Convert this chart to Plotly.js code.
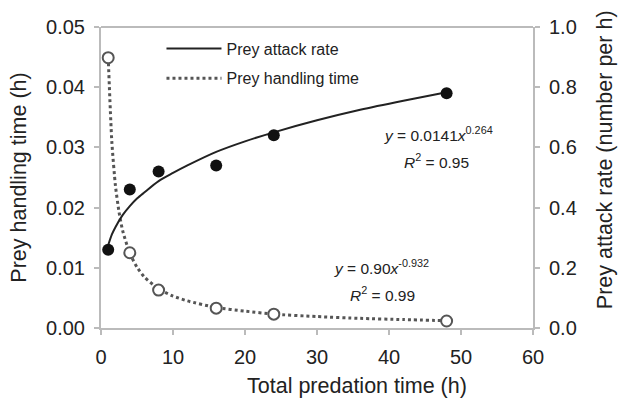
<!DOCTYPE html>
<html><head><meta charset="utf-8">
<script src="https://cdn.plot.ly/plotly-3.0.1.min.js"></script>
<style>html,body{margin:0;padding:0;background:#fff}#chart{width:618px;height:399px}</style>
</head><body><div id="chart"></div>
<script>
// Observed data
const predTime = [1, 4, 8, 16, 24, 48];
const handlingTime = [0.0449, 0.0125, 0.0063, 0.0033, 0.0023, 0.00116];
const attackRate = [0.26, 0.46, 0.52, 0.54, 0.64, 0.78];
// Fitted curves
const attackFitX = [1, 1.5, 2, 3, 4, 5, 6, 8, 10, 12, 16, 20, 24, 30, 36, 42, 48];
const attackFitY = [0.275, 0.31, 0.335, 0.375, 0.405, 0.43, 0.45, 0.488, 0.515, 0.54, 0.585, 0.62, 0.65, 0.69, 0.725, 0.755, 0.783];
const handlingFitX = [1, 1.5, 2, 2.5, 3, 4, 5, 6, 8, 10, 12, 16, 20, 24, 30, 36, 42, 48];
const handlingFitY = [0.045, 0.031, 0.0237, 0.0193, 0.0162, 0.0124, 0.0101, 0.0085, 0.0065, 0.0053, 0.0045, 0.0034, 0.0028, 0.0023, 0.0019, 0.0016, 0.0014, 0.0012];
const xTicks = [0, 10, 20, 30, 40, 50, 60];
const yLeftTicks = [0, 0.01, 0.02, 0.03, 0.04, 0.05];
const yLeftLabels = ['0.00', '0.01', '0.02', '0.03', '0.04', '0.05'];
const yRightTicks = [0, 0.2, 0.4, 0.6, 0.8, 1.0];
const yRightLabels = ['0.0', '0.2', '0.4', '0.6', '0.8', '1.0'];

const font = 'Liberation Sans, Arial, sans-serif';
const txt = '#222';
const traces = [
  {x: attackFitX, y: attackFitY, yaxis: 'y2', mode: 'lines', name: 'Prey attack rate', legendgroup: 'a',
   line: {color: '#222', width: 2, shape: 'spline', smoothing: 0.8}, hoverinfo: 'skip'},
  {x: handlingFitX, y: handlingFitY, mode: 'lines', name: 'Prey handling time', legendgroup: 'b',
   line: {color: '#555', width: 3, dash: 'dot', shape: 'spline', smoothing: 0.6}, hoverinfo: 'skip'},
  {x: predTime, y: attackRate, yaxis: 'y2', mode: 'markers', showlegend: false,
   marker: {color: '#111', size: 12}},
  {x: predTime, y: handlingTime, mode: 'markers', showlegend: false,
   marker: {color: '#fff', size: 11, line: {color: '#555', width: 2}}}
];
const axCommon = {showgrid: false, zeroline: false, showline: true, linecolor: '#bbb', linewidth: 2,
  ticks: 'outside', ticklen: 5, tickcolor: '#bbb', tickwidth: 2, ticklabelstandoff: 5,
  tickfont: {family: font, size: 20, color: txt}};
const titleFont = {family: font, size: 21.5, color: txt};
const eqFont = {family: font, size: 15.5, color: txt};
const layout = {
  width: 618, height: 399,
  margin: {l: 101, r: 85, t: 27, b: 71},
  paper_bgcolor: '#fff', plot_bgcolor: '#fff',
  showlegend: true,
  legend: {x: 0.14, y: 0.985, xanchor: 'left', yanchor: 'top', bgcolor: 'rgba(0,0,0,0)',
    traceorder: 'grouped', tracegroupgap: 6,
    font: {family: font, size: 16, color: txt}, itemwidth: 55},
  xaxis: Object.assign({}, axCommon, {range: [0, 60], tickvals: xTicks}),
  yaxis: Object.assign({}, axCommon, {range: [0, 0.05], tickvals: yLeftTicks, ticktext: yLeftLabels,
    title: {text: 'Prey handling time (h)', font: titleFont, standoff: 14}}),
  yaxis2: Object.assign({}, axCommon, {range: [0, 1], overlaying: 'y', side: 'right',
    tickvals: yRightTicks, ticktext: yRightLabels}),
  shapes: [{type: 'line', xref: 'paper', yref: 'paper', x0: 0, x1: 1, y0: 1, y1: 1,
    line: {color: '#bbb', width: 2}}],
  annotations: [
    {x: 0.5926, y: -0.193, xref: 'paper', yref: 'paper', xanchor: 'center', yanchor: 'middle',
     showarrow: false, text: 'Total predation time (h)', font: titleFont},
    {x: 1.167, y: 0.558, xref: 'paper', yref: 'paper', xanchor: 'center', yanchor: 'middle',
     showarrow: false, textangle: -90, text: 'Prey attack rate (number per h)', font: titleFont},
    {x: 46.9, y: 0.0322, xref: 'x', yref: 'y', xanchor: 'center', showarrow: false,
     text: '<i>y</i> = 0.0141<i>x</i><sup>0.264</sup>', font: eqFont},
    {x: 46.6, y: 0.0277, xref: 'x', yref: 'y', xanchor: 'center', showarrow: false,
     text: '<i>R</i><sup>2</sup> = 0.95', font: eqFont},
    {x: 38.9, y: 0.0101, xref: 'x', yref: 'y', xanchor: 'center', showarrow: false,
     text: '<i>y</i> = 0.90<i>x</i><sup>-0.932</sup>', font: eqFont},
    {x: 39.1, y: 0.0057, xref: 'x', yref: 'y', xanchor: 'center', showarrow: false,
     text: '<i>R</i><sup>2</sup> = 0.99', font: eqFont}
  ]
};
Plotly.newPlot('chart', traces, layout, {displayModeBar: false, staticPlot: true});
</script></body></html>
